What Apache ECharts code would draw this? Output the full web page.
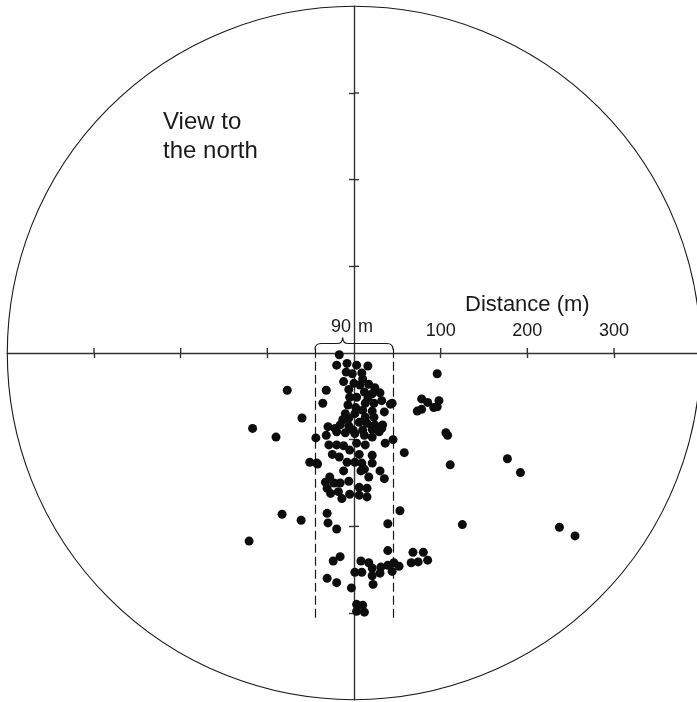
<!DOCTYPE html>
<html>
<head>
<meta charset="utf-8">
<script src="https://cdn.jsdelivr.net/npm/echarts@6/dist/echarts.min.js"></script>
<style>
html,body{margin:0;padding:0;background:#fff;}
#chart{width:697px;height:702px;}
</style>
</head>
<body>
<div id="chart"></div>
<script>
// ---- data (metres; x = east, y = north, origin = observer) ----
const circleRadius = 400;
const axisTickValues = [-300, -200, -100, 100, 200, 300];
const distanceLabels = [100, 200, 300];
const corridorHalfWidth = 45;
const corridorTop = 5;
const corridorBottom = -310;
const corridorLabelLeft = '90';
const corridorLabelRight = 'm';

const coreCluster = [
  [-17,-2],[-20,-14],[-8,-12],[3,-14],[16,-15],[-9,-22],[-2,-24],[9,-23],[10,-30],[-12,-33],
  [0,-35],[7,-37],[17,-36],[-32,-43],[-6,-42],[24,-40],[30,-46],[12,-45],[21,-47],[3,-51],
  [16,-52],[-5,-51],[-36,-58],[-7,-60],[2,-63],[13,-58],[23,-58],[32,-55],[42,-59],[10,-66],
  [21,-67],[35,-68],[-10,-70],[1,-70],[13,-74],[23,-74],[-6,-75],[-13,-77],[-16,-83],[-30,-85],
  [-22,-87],[-6,-84],[6,-80],[15,-81],[24,-83],[33,-83],[-1,-89],[10,-89],[21,-88],[32,-87],
  [-32,-95],[-20,-91],[-10,-92],[1,-93],[12,-95],[21,-97],[29,-91],[36,-104],[45,-100],[-29,-106],
  [-20,-106],[-12,-107],[-5,-112],[3,-104],[13,-106],[-25,-117],[-17,-120],[6,-117],[21,-118],[-43,-127],
  [-51,-126],[-8,-126],[1,-126],[9,-127],[21,-127],[12,-134],[-12,-136],[8,-136],[30,-136],[17,-143],
  [-28,-143],[-33,-149],[-23,-150],[-16,-150],[-6,-148],[35,-145],[-31,-156],[-18,-160],[-27,-162],[6,-155],
  [15,-156],[-5,-163],[6,-164],[15,-166],[-14,-168],[-31,-185],[-30,-196],[-20,-203],[39,-197],[53,-182]
];

const southBand = [
  [-24,-240],[-16,-235],[39,-228],[8,-240],[17,-242],[21,-248],[31,-247],[30,-254],[39,-245],[46,-242],
  [52,-246],[44,-252],[1,-253],[9,-253],[21,-257],[22,-267],[-31,-260],[-20,-265],[-3,-271],[68,-230],
  [80,-230],[74,-241],[85,-239],[66,-242],[3,-290],[10,-291],[3,-298],[12,-299]
];

const westScatter = [
  [-77,-43],[-60,-75],[-117,-87],[-90,-97],[-44,-98],[-42,-128],[-83,-186],[-61,-193],[-121,-217]
];

const eastScatter = [
  [96,-24],[78,-53],[85,-57],[98,-55],[73,-67],[78,-65],[92,-63],[96,-62],[44,-58],[106,-92],
  [108,-95],[58,-115],[111,-129],[177,-122],[192,-138],[125,-198],[237,-201],[255,-211]
];

// ---- chart ----
const ink = '#1a1a1a';
const axisColor = '#333';
const fontFamily = '"Liberation Sans", Arial, Helvetica, sans-serif';
const chart = echarts.init(document.getElementById('chart'), null, {renderer: 'canvas'});

function makeAxis(position) {
  return {
    type: 'value', min: -circleRadius, max: circleRadius, interval: 100,
    position: position,
    axisLine: {show: true, onZero: true, lineStyle: {color: axisColor, width: 1.4}},
    axisTick: {show: true, inside: false, length: 5, customValues: axisTickValues,
      lineStyle: {color: axisColor, width: 1.4}},
    axisLabel: {show: false},
    splitLine: {show: false}
  };
}

const allPoints = coreCluster.concat(southBand, westScatter, eastScatter);

const option = {
  animation: false,
  backgroundColor: '#fff',
  grid: {left: 7.3, top: 6.3, width: 693.4, height: 693.4, outerBoundsMode: 'none', containLabel: false},
  xAxis: makeAxis('bottom'),
  yAxis: makeAxis('left'),
  graphic: [
    {type: 'text', left: 163, top: 108, style: {text: 'View to\nthe north', fontSize: 24,
      lineHeight: 29, fill: ink, fontFamily: fontFamily}},
    {type: 'text', left: 465, top: 294, style: {text: 'Distance (m)', fontSize: 22,
      fill: ink, fontFamily: fontFamily}}
  ],
  series: [
    {
      // range circle (400 m), opposite half of each axis tick, distance labels
      type: 'custom', silent: true, z: 1,
      data: [[0, 0]],
      renderItem: function (params, api) {
        const c = api.coord([0, 0]);
        const r = api.size([circleRadius, 0])[0];
        const children = [{type: 'circle', shape: {cx: c[0], cy: c[1], r: r},
          style: {fill: 'none', stroke: ink, lineWidth: 1.1}}];
        axisTickValues.forEach(function (v) {
          const px = api.coord([v, 0]);
          children.push({type: 'line', shape: {x1: px[0], y1: px[1], x2: px[0], y2: px[1] - 5},
            style: {stroke: axisColor, lineWidth: 1.4}});
          const py = api.coord([0, v]);
          children.push({type: 'line', shape: {x1: py[0], y1: py[1], x2: py[0] + 5, y2: py[1]},
            style: {stroke: axisColor, lineWidth: 1.4}});
        });
        distanceLabels.forEach(function (v) {
          const p = api.coord([v, 0]);
          children.push({type: 'text', x: p[0], y: p[1] - 22, style: {text: String(v), fontSize: 18,
            fill: ink, fontFamily: fontFamily, align: 'center', verticalAlign: 'middle'}});
        });
        return {type: 'group', children: children};
      }
    },
    {
      // brace and "90 m" label above the corridor
      type: 'custom', silent: true, z: 3,
      data: [[0, 0]],
      renderItem: function (params, api) {
        const w = corridorHalfWidth;
        const p = (x, y) => api.coord([x, y]);
        const pts = {
          a: p(-w, 4), a1: p(-w, 11), a2: p(-w + 7, 11),
          b: p(-20, 11), b1: p(-13, 11), cusp: p(-13, 18),
          c1: p(-13, 11), c: p(-6, 11),
          d: p(w - 7, 11), d1: p(w, 11), e: p(w, 4)
        };
        const f = q => q[0].toFixed(1) + ' ' + q[1].toFixed(1);
        const path = 'M' + f(pts.a) + ' Q' + f(pts.a1) + ' ' + f(pts.a2) +
          ' L' + f(pts.b) + ' Q' + f(pts.b1) + ' ' + f(pts.cusp) +
          ' Q' + f(pts.c1) + ' ' + f(pts.c) +
          ' L' + f(pts.d) + ' Q' + f(pts.d1) + ' ' + f(pts.e);
        const lab = p(0, 30);
        return {type: 'group', children: [
          {type: 'path', shape: {pathData: path}, style: {fill: 'none', stroke: ink, lineWidth: 1.2}},
          {type: 'text', x: lab[0] - 3, y: lab[1], style: {text: corridorLabelLeft, fontSize: 18,
            fill: ink, fontFamily: fontFamily, align: 'right', verticalAlign: 'middle'}},
          {type: 'text', x: lab[0] + 4, y: lab[1], style: {text: corridorLabelRight, fontSize: 18,
            fill: ink, fontFamily: fontFamily, align: 'left', verticalAlign: 'middle'}}
        ]};
      }
    },
    {
      type: 'scatter', z: 5,
      symbol: 'circle', symbolSize: 9,
      itemStyle: {color: '#0d0d0d', opacity: 1},
      emphasis: {disabled: true},
      data: allPoints,
      markLine: {
        silent: true, symbol: ['none', 'none'], label: {show: false},
        lineStyle: {color: ink, width: 1.2, type: [9, 4], opacity: 1},
        data: [
          [{coord: [-corridorHalfWidth, corridorTop]}, {coord: [-corridorHalfWidth, corridorBottom]}],
          [{coord: [corridorHalfWidth, corridorTop]}, {coord: [corridorHalfWidth, corridorBottom]}]
        ]
      }
    }
  ]
};
chart.setOption(option);
</script>
</body>
</html>
